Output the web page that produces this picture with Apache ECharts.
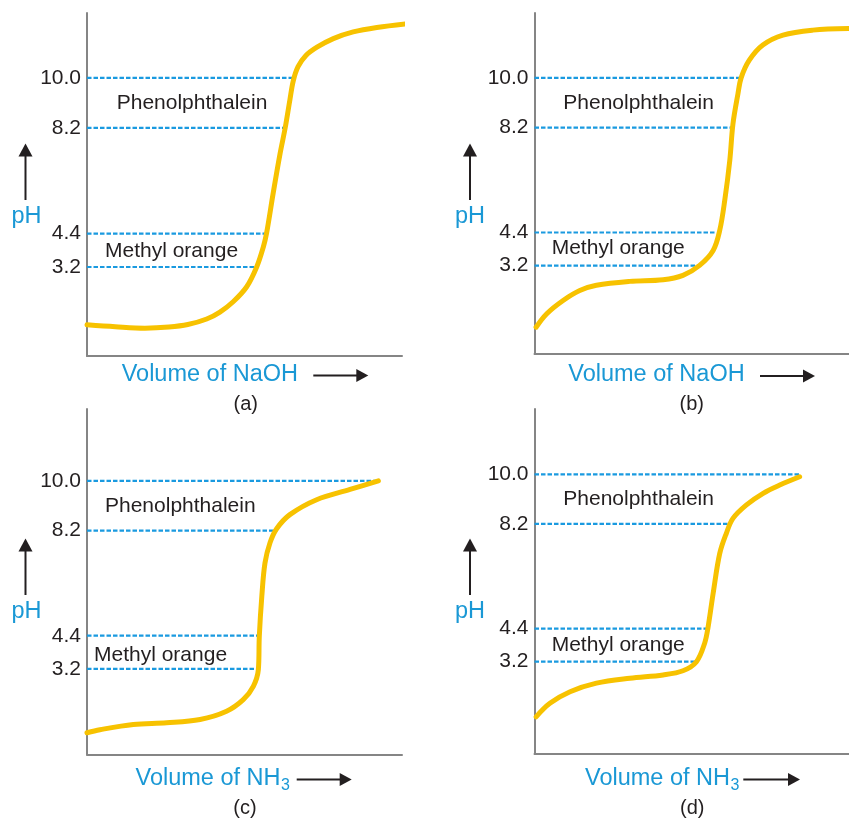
<!DOCTYPE html>
<html><head><meta charset="utf-8">
<script src="https://cdn.jsdelivr.net/npm/echarts@6/dist/echarts.min.js"></script>
<style>html,body{margin:0;padding:0;background:#fff}#c{width:849px;height:818px}</style>
</head><body><div id="c"></div>
<script>
// ---- data ----
const indicatorLevels = [10.0, 8.2, 4.4, 3.2];
const indicatorNames = ['Phenolphthalein', 'Methyl orange'];
const panelLabels = ['(a)', '(b)', '(c)', '(d)'];
const titrantNames = ['NaOH', 'NaOH', 'NH', 'NH'];
const titrantSubs = ['', '', '3', '3'];
const yLabel = 'pH';
const xLabelPrefix = 'Volume of ';

// curve points: [volume (0-100 axis units), pH]
const curveA = [[0,1.12],[9,1.05],[18.4,1.0],[26,1.04],[32,1.13],[38,1.33],[42.2,1.58],[46.4,1.95],[50.7,2.49],[53.9,3.21],[56,3.93],[57,4.41],[59.1,5.85],[61.3,7.28],[62.9,8.19],[64.4,9.2],[65.5,9.9],[67,10.4],[69.5,10.8],[73,11.1],[78.2,11.41],[84.5,11.65],[92,11.81],[102,11.95]];
const curveB = [[0.5,0.97],[3.9,1.46],[9.1,1.94],[14.4,2.3],[19.7,2.49],[30.3,2.63],[40.9,2.69],[47.2,2.85],[52.5,3.21],[56.8,3.75],[58.9,4.48],[60.5,5.57],[62.1,7.02],[63.1,8.33],[64.7,9.43],[65.7,10.0],[68.3,10.64],[72.6,11.19],[79,11.55],[88.5,11.73],[99.8,11.79]];
const curveC = [[0,0.89],[4.1,1.0],[14.7,1.19],[25.3,1.25],[35.9,1.37],[44.3,1.67],[49.6,2.09],[52.8,2.57],[54.4,3.18],[54.7,4.38],[55.5,5.83],[56.5,7.03],[58.1,7.76],[60.2,8.27],[64.4,8.78],[72.9,9.32],[83.5,9.69],[92.5,10.0]];
const curveD = [[0.5,1.2],[4.9,1.69],[11.3,2.11],[19.7,2.42],[30.3,2.6],[40.9,2.72],[47.2,2.87],[51.5,3.2],[54.1,3.87],[55.2,4.46],[56.8,5.68],[58.9,7.13],[61,7.86],[63.1,8.4],[67.4,8.89],[72.7,9.31],[78,9.61],[84.3,9.91]];
// volume where each dashed level line ends (order of indicatorLevels)
const crossA = [65.5, 62.9, 57.0, 54.0];
const crossB = [65.2, 62.6, 57.8, 52.5];
const crossC = [92.0, 60.2, 54.7, 54.4];
const crossD = [84.3, 62.6, 55.2, 51.5];

const curves = [curveA, curveB, curveC, curveD];
const crosses = [crossA, crossB, crossC, crossD];

// ---- layout / style ----
const FONT = '"Liberation Sans", Arial, Helvetica, sans-serif';
const BLUE = '#1a98d5';
const DASH = '#1a9ae0';
const YEL = '#f7c200';
const INK = '#231f20';
const AXIS = '#858585';

const grids = [
  {left: 87, top: 13, width: 315, height: 343, ymin: 0, ymax: 12.33},
  {left: 534.5, top: 13, width: 315, height: 341, ymin: 0, ymax: 12.35},
  {left: 87, top: 409, width: 315, height: 345.6, ymin: 0.1, ymax: 12.6},
  {left: 534.5, top: 409, width: 315, height: 345, ymin: -0.15, ymax: 12.37}
];

const option = {
  animation: false,
  backgroundColor: '#fff',
  grid: [], xAxis: [], yAxis: [], series: [], graphic: []
};

grids.forEach((g, i) => {
  option.grid.push({left: g.left, top: g.top, width: g.width, height: g.height, containLabel: false});
  option.xAxis.push({
    gridIndex: i, type: 'value', min: 0, max: 100,
    axisLine: {show: true, onZero: false, lineStyle: {color: AXIS, width: 2}},
    axisTick: {show: false}, axisLabel: {show: false}, splitLine: {show: false}
  });
  option.yAxis.push({
    gridIndex: i, type: 'value', min: g.ymin, max: g.ymax,
    axisLine: {show: true, onZero: false, lineStyle: {color: AXIS, width: 2}},
    axisTick: {show: false}, splitLine: {show: false},
    axisLabel: {
      show: true, customValues: indicatorLevels,
      formatter: v => Number(v).toFixed(1),
      fontSize: 21, color: INK, fontFamily: FONT, margin: 6
    }
  });
  indicatorLevels.forEach((lv, k) => {
    option.series.push({
      type: 'line', xAxisIndex: i, yAxisIndex: i, silent: true,
      data: [[0, lv], [crosses[i][k], lv]],
      showSymbol: false, symbol: 'none', z: 2,
      lineStyle: {color: DASH, width: 2.2, type: [4.5, 2]}
    });
  });
  option.series.push({
    type: 'line', xAxisIndex: i, yAxisIndex: i, silent: true,
    data: curves[i], smooth: 0.35, showSymbol: false, symbol: 'none', clip: false, z: 3,
    lineStyle: {color: YEL, width: 5, cap: 'round', join: 'round'}
  });
});

// annotation text positions (pixels)
const indPos = [
  [[116.7, 103.3], [105, 251.7]],
  [[563.3, 103.3], [551.7, 248.3]],
  [[105, 506.7], [94, 655]],
  [[563.3, 499.3], [551.7, 645]]
];
const xLabPos = [[121.7, 375], [568.3, 375], [135.5, 779], [585, 779]];
const xArrow = [[313.3, 368.3, 375.5], [760, 815, 376], [296.7, 351.7, 779.5], [743.3, 800, 779.5]];
const pHPos = [[26.5, 217], [470, 217], [26.5, 612], [470, 612]];
const yArrow = [[25.5, 200, 143.5], [470, 200, 143.5], [25.5, 595, 538.5], [470, 595, 538.5]];
const panelPos = [[245.7, 404], [691.7, 404], [245, 808], [692.3, 808]];

const mctx = document.createElement('canvas').getContext('2d');
mctx.font = '23.5px ' + FONT;

for (let i = 0; i < 4; i++) {
  indicatorNames.forEach((nm, k) => {
    option.graphic.push({type: 'text', x: indPos[i][k][0], y: indPos[i][k][1], silent: true,
      style: {text: nm, fill: INK, font: '21px ' + FONT, align: 'left', verticalAlign: 'middle'}});
  });
  const main = xLabelPrefix + titrantNames[i];
  option.graphic.push({type: 'text', x: xLabPos[i][0], y: xLabPos[i][1], silent: true,
    style: {text: main, fill: BLUE, font: '23.5px ' + FONT, align: 'left', verticalAlign: 'middle'}});
  if (titrantSubs[i]) {
    const w = mctx.measureText(main).width;
    option.graphic.push({type: 'text', x: xLabPos[i][0] + w + 0.5, y: xLabPos[i][1] + 7, silent: true,
      style: {text: titrantSubs[i], fill: BLUE, font: '16px ' + FONT, align: 'left', verticalAlign: 'middle'}});
  }
  const xa = xArrow[i];
  option.graphic.push({type: 'line', silent: true, shape: {x1: xa[0], y1: xa[2], x2: xa[1] - 10, y2: xa[2]},
    style: {stroke: INK, lineWidth: 2}});
  option.graphic.push({type: 'polygon', silent: true,
    shape: {points: [[xa[1] - 12, xa[2] - 6.5], [xa[1], xa[2]], [xa[1] - 12, xa[2] + 6.5]]}, style: {fill: INK}});
  option.graphic.push({type: 'text', x: pHPos[i][0], y: pHPos[i][1], silent: true,
    style: {text: yLabel, fill: BLUE, font: '23.5px ' + FONT, align: 'center', verticalAlign: 'middle'}});
  const ya = yArrow[i];
  option.graphic.push({type: 'line', silent: true, shape: {x1: ya[0], y1: ya[1], x2: ya[0], y2: ya[2] + 10},
    style: {stroke: INK, lineWidth: 2}});
  option.graphic.push({type: 'polygon', silent: true,
    shape: {points: [[ya[0] - 7, ya[2] + 13], [ya[0], ya[2]], [ya[0] + 7, ya[2] + 13]]}, style: {fill: INK}});
  option.graphic.push({type: 'text', x: panelPos[i][0], y: panelPos[i][1], silent: true,
    style: {text: panelLabels[i], fill: INK, font: '20px ' + FONT, align: 'center', verticalAlign: 'middle'}});
}

const chart = echarts.init(document.getElementById('c'), null, {renderer: 'canvas'});
chart.setOption(option);
</script>
</body></html>
